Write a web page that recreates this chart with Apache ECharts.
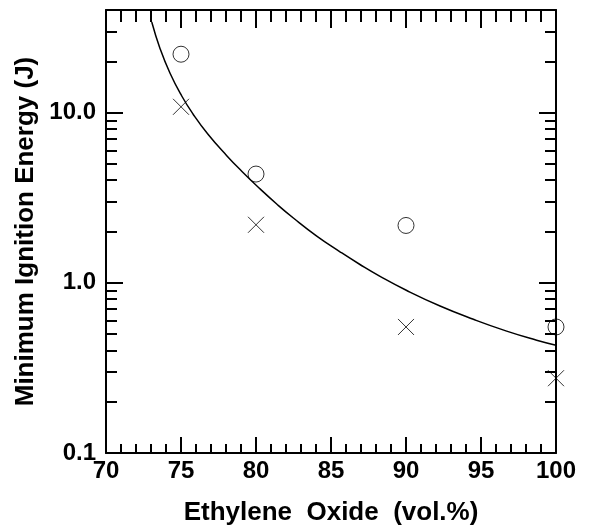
<!DOCTYPE html>
<html>
<head>
<meta charset="utf-8">
<script src="https://cdn.jsdelivr.net/npm/echarts@6/dist/echarts.min.js"></script>
<style>
html, body { margin: 0; padding: 0; background: #fff; }
#chart { width: 596px; height: 531px; }
</style>
</head>
<body>
<div id="chart"></div>
<script>
// 读图得到的数据
var circleX = [75, 80, 90, 100];
var circleY = [22, 4.35, 2.17, 0.55];

var crossX = [75, 80, 90, 100];
var crossY = [10.8, 2.19, 0.55, 0.275];

var curveX = [73.05, 73.6, 74.27, 75.05, 75.8, 76.8, 78.05, 79.15, 80.27, 81.38, 82.49, 84.05, 85.6, 86.93, 88.27, 90.05, 92.27, 94.49, 96.71, 98.71, 100];
var curveY = [34.0, 23.8, 17.0, 12.5, 9.8, 7.45, 5.58, 4.43, 3.56, 2.90, 2.40, 1.88, 1.52, 1.28, 1.09, 0.90, 0.73, 0.61, 0.52, 0.46, 0.43];

var yMajorTicks = [0.1, 1, 10];
var yMinorTicks = [0.2, 0.3, 0.4, 0.5, 0.6, 0.7, 0.8, 0.9, 2, 3, 4, 5, 6, 7, 8, 9, 20, 30];

function pairs(xs, ys) {
    var out = [];
    for (var i = 0; i < xs.length; i++) {
        out.push([xs[i], ys[i]]);
    }
    return out;
}

var font = 'Liberation Sans';

function xAx(pos, majorLen, minorLen, showLabel) {
    return {
        type: 'value',
        position: pos,
        min: 70,
        max: 100,
        interval: 5,
        axisLine: { show: true, onZero: false, lineStyle: { color: '#000', width: 2 } },
        axisTick: { show: true, inside: true, length: majorLen, lineStyle: { color: '#000', width: 2 } },
        minorTick: { show: true, splitNumber: 5, length: minorLen, lineStyle: { color: '#000', width: 2 } },
        splitLine: { show: false },
        axisLabel: {
            show: showLabel, margin: 6, color: '#000',
            fontFamily: font, fontWeight: 'bold', fontSize: 24
        }
    };
}

function yAx(pos, ticks, len, showLabel, showLine) {
    return {
        type: 'log',
        logBase: 10,
        position: pos,
        min: 0.1,
        max: 40,
        axisLine: { show: showLine, onZero: false, lineStyle: { color: '#000', width: 2 } },
        axisTick: { show: true, inside: true, length: len, customValues: ticks, lineStyle: { color: '#000', width: 2 } },
        splitLine: { show: false },
        axisLabel: {
            show: showLabel, margin: 10, color: '#000', customValues: yMajorTicks,
            fontFamily: font, fontWeight: 'bold', fontSize: 24,
            formatter: function (v) { return v.toFixed(1); }
        }
    };
}

var chart = echarts.init(document.getElementById('chart'));

var yLeft = yAx('left', yMajorTicks, 17, true, true);
yLeft.name = 'Minimum Ignition Energy (J)';
yLeft.nameLocation = 'middle';
yLeft.nameGap = 62;
yLeft.nameTextStyle = { color: '#000', fontFamily: font, fontWeight: 'bold', fontSize: 26 };

var xBottom = xAx('bottom', 16, 9, true);
xBottom.name = 'Ethylene  Oxide  (vol.%)';
xBottom.nameLocation = 'middle';
xBottom.nameGap = 47;
xBottom.nameTextStyle = { color: '#000', fontFamily: font, fontWeight: 'bold', fontSize: 26 };

var option = {
    backgroundColor: '#fff',
    animation: false,
    grid: { left: 106, right: 40, top: 10, bottom: 75 },
    xAxis: [xBottom, xAx('top', 18, 12, false)],
    yAxis: [
        yLeft,
        yAx('left', yMinorTicks, 11, false, false),
        yAx('right', yMajorTicks, 17, false, true),
        yAx('right', yMinorTicks, 11, false, false)
    ],
    series: [
        {
            type: 'line',
            data: pairs(curveX, curveY),
            smooth: 0.5,
            showSymbol: false,
            lineStyle: { color: '#000', width: 1.5 }
        },
        {
            type: 'scatter',
            data: pairs(circleX, circleY),
            symbol: 'circle',
            symbolSize: 16,
            itemStyle: { color: 'rgba(0,0,0,0)', borderColor: '#000', borderWidth: 1 }
        },
        {
            type: 'scatter',
            data: pairs(crossX, crossY),
            symbol: 'path://M0,0L10,10M10,0L0,10',
            symbolSize: 16,
            itemStyle: { color: 'none', borderColor: '#000', borderWidth: 1 }
        }
    ]
};

chart.setOption(option);
</script>
</body>
</html>
